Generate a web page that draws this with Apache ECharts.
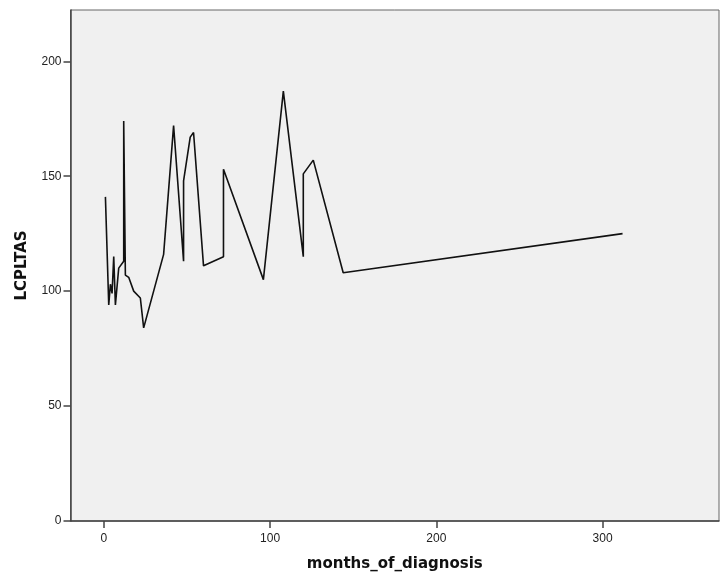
<!DOCTYPE html>
<html>
<head>
<meta charset="utf-8">
<script src="https://cdn.jsdelivr.net/npm/echarts@6/dist/echarts.min.js"></script>
<style>
html,body{margin:0;padding:0;background:#fff;}
#chart{width:727px;height:577px;}
</style>
</head>
<body>
<div id="chart"></div>
<script>
const months = [1,3,4,5,6,7,9,10,12,12,13,15,18,22,24,36,42,48,48,52,54,60,72,72,96,108,120,120,126,144,312];
const lcpltas = [141,94,103,99,115,94,110,110,113,174,107,106,100,97,84,116,172,113,148,167,169,111,115,153,105,187,115,151,157,108,125];
const xTicks = [0,100,200,300];
const yTicks = [0,50,100,150,200];
const xTitle = 'months_of_diagnosis';
const yTitle = 'LCPLTAS';

const chart = echarts.init(document.getElementById('chart'));
const fontFam = '"Liberation Sans", Arial, sans-serif';
const titleFam = '"DejaVu Sans", Verdana, sans-serif';
chart.setOption({
  animation: false,
  grid: {
    left: 70.5, right: 8, top: 10, bottom: 56,
    show: true, backgroundColor: '#f0f0f0', borderColor: '#666', borderWidth: 1
  },
  xAxis: {
    type: 'value', min: -20, max: 370,
    name: xTitle, nameLocation: 'middle', nameGap: 36,
    nameTextStyle: {fontFamily: titleFam, fontWeight: 'bold', fontSize: 15, color: '#111'},
    axisLine: {show: true, onZero: false, lineStyle: {color: '#444', width: 1.5}},
    axisTick: {show: true, length: 7, customValues: xTicks, lineStyle: {color: '#444', width: 1.5}},
    axisLabel: {customValues: xTicks, fontFamily: fontFam, fontSize: 12, color: '#222', margin: 12},
    splitLine: {show: false}
  },
  yAxis: {
    type: 'value', min: 0, max: 222.3,
    name: yTitle, nameLocation: 'middle', nameGap: 41, nameRotate: 90,
    nameTextStyle: {fontFamily: titleFam, fontWeight: 'bold', fontSize: 15, color: '#111'},
    axisLine: {show: true, onZero: false, lineStyle: {color: '#444', width: 1.5}},
    axisTick: {show: true, length: 7, customValues: yTicks, lineStyle: {color: '#444', width: 1.5}},
    axisLabel: {customValues: yTicks, fontFamily: fontFam, fontSize: 12, color: '#222', margin: 9},
    splitLine: {show: false}
  },
  series: [{
    type: 'line',
    data: months.map((m, i) => [m, lcpltas[i]]),
    showSymbol: false,
    symbol: 'none',
    lineStyle: {color: '#111', width: 1.6},
    clip: true
  }]
});
</script>
</body>
</html>
